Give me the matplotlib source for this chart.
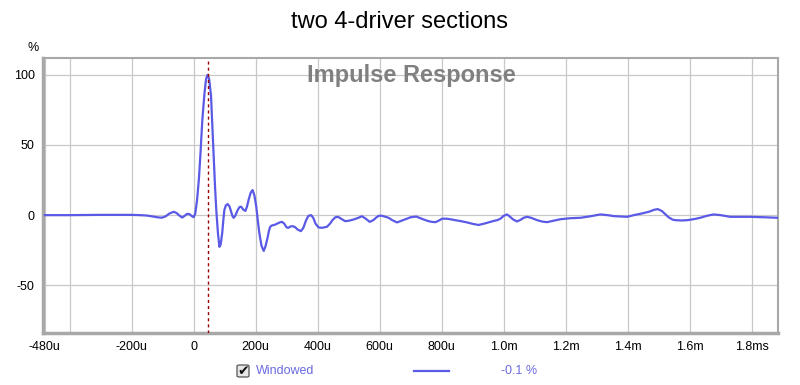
import matplotlib
matplotlib.use("Agg")
import matplotlib.pyplot as plt
from matplotlib.patches import FancyBboxPatch
from matplotlib.lines import Line2D

# impulse response, time in microseconds, amplitude in %
time_us = [-480, -400, -300, -200, -172, -150, -130, -115, -102, -90, -78, -64, -55, -45, -37,
           -29, -21, -14, -7, 0, 5, 11, 17, 22, 28, 35, 40, 45, 50, 56, 60, 65, 69, 73, 78,
           83, 87, 92, 96, 99, 104, 110, 116, 121, 125, 129, 134, 142, 148, 153, 160, 167,
           172, 177, 184, 190, 196, 202, 207, 212, 219, 226, 232, 239, 243, 247, 253, 260,
           270, 280, 285, 292, 300, 306, 313, 320, 327, 335, 346, 354, 362, 370, 379, 386,
           393, 403, 415, 430, 440, 448, 457, 466, 475, 489, 500, 516, 530, 543, 555, 568,
           580, 590, 597, 606, 616, 629, 640, 656, 670, 683, 700, 718, 735, 753, 768, 780,
           790, 801, 815, 830, 844, 860, 882, 900, 919, 938, 957, 970, 979, 990, 1000, 1011,
           1020, 1030, 1043, 1055, 1065, 1077, 1090, 1108, 1125, 1140, 1160, 1183, 1215,
           1247, 1280, 1312, 1335, 1355, 1380, 1398, 1420, 1446, 1470, 1485, 1497, 1510,
           1520, 1532, 1545, 1554, 1575, 1592, 1615, 1634, 1655, 1677, 1700, 1731, 1760,
           1796, 1840, 1885]
amp_pct = [0, 0, 0.2, 0.2, 0, -0.3, -1.0, -1.6, -1.8, -0.8, 1.2, 2.4, 1.5, -0.5, -1.7,
           -0.5, 0.9, 0.8, -0.5, -1.5, 1, 10.7, 26, 44, 68, 87, 97, 100, 97, 85, 65, 39, 20, 3.6, -12,
           -22.6, -21, -13, -3, 3.6, 7, 7.9, 6, 2.4, -0.5, -1.9, -0.5, 3.6, 5.8, 6, 4, 3,
           6, 10.7, 16, 17.9, 14, 6, -4, -13, -22, -25.5, -22, -15.5, -11, -8.3, -7.3, -7,
           -6, -5, -4.8, -6, -8.8, -9, -8, -7.9, -8.5, -10.2, -11.4, -9, -4, -0.5, 0, -2,
           -6, -8.8, -9, -8.3, -6, -3.5, -1.5, -1.2, -2.5, -4.3, -4, -3.1, -2, -0.8, -2.5, -4.8,
           -3.5, -1.5, -0.5, -0.4, -1, -1.9, -3.5, -5.2, -4, -2.9, -1.5, -1.0, -2.5, -4, -4.8, -5,
           -4, -2.6, -2.5, -3, -3.6, -4.2, -5.2, -6.2, -7, -6, -4.8, -4, -3.6, -2.5, -0.5, 0.5,
           -1, -3, -4.5, -3.3, -1.8, -1.2, -2, -3.6, -4.6, -5, -4, -2.9, -2.2,
           -1.9, -0.8, 0.5, 0, -0.7, -1, -1.2, 0, 1.2, 2.5, 3.8, 4.3, 3,
           1, -1.5, -3.2, -3.6, -3.8, -3.6, -2.8, -1.9, -0.5, 0.5, 0, -1.2, -1.2,
           -1.2, -1.5, -1.9]

marker_us = 45
x_ticks = [-480, -400, -200, 0, 200, 400, 600, 800, 1000, 1200, 1400, 1600, 1800]
x_labels = ["-480u", "", "-200u", "0", "200u", "400u", "600u", "800u",
            "1.0m", "1.2m", "1.4m", "1.6m", "1.8ms"]
y_ticks = [-50, 0, 50, 100]

plt.rcParams['font.family'] = ['Liberation Sans', 'DejaVu Sans']
plt.rcParams['axes.unicode_minus'] = False

line_col = '#5a5ae6'
fig = plt.figure(figsize=(8, 3.85), dpi=100)
ax = fig.add_axes([43 / 800, 52 / 385, 735 / 800, 275 / 385])

ax.plot(time_us, amp_pct, color=line_col, lw=1.6, solid_joinstyle='round', zorder=3)
ax.axvline(marker_us, color='#990000', lw=1.0, ls=(0, (2.2, 2.2)), zorder=4)

ax.set_xlim(-486, 1885)
ax.set_ylim(-84, 112)
ax.set_xticks(x_ticks)
ax.set_xticklabels(x_labels)
ax.set_yticks(y_ticks)
ax.tick_params(length=0, labelsize=9, pad=6)
ax.grid(True, color='#c8c8c8', lw=0.9)
for s in ax.spines.values():
    s.set_color('#a8a8a8')
    s.set_linewidth(1.5)
ax.spines['left'].set_linewidth(2.5)
ax.spines['bottom'].set_linewidth(2.5)

fig.text(0.499, 0.943, "two 4-driver sections", ha='center', va='center', fontsize=17)
fig.text(0.514, 0.805, "Impulse Response", ha='center', va='center', fontsize=17,
         fontweight='bold', color='#808080')
fig.text(0.041, 0.875, "%", ha='center', va='center', fontsize=9)

# legend row below the plot
ly = 1 - 371 / 385
box = FancyBboxPatch((237 / 800, 1 - 377 / 385), 12 / 800, 12 / 385,
                     boxstyle='round,pad=0,rounding_size=0.003', transform=fig.transFigure,
                     fc='#e8e8e8', ec='#555555', lw=0.9)
fig.patches.append(box)
fig.text(243.5 / 800, ly, "\u2714", ha='center', va='center', fontsize=10,
         family=['DejaVu Sans'], color='#111111')
fig.text(256 / 800, ly, "Windowed", ha='left', va='center', fontsize=9, color='#6a6ae0')
fig.add_artist(Line2D([414 / 800, 449 / 800], [ly, ly], color=line_col, lw=1.6,
                      transform=fig.transFigure))
fig.text(501 / 800, ly, "-0.1 %", ha='left', va='center', fontsize=9, color='#6a6ae0')

fig.savefig("out.png", dpi=100)
